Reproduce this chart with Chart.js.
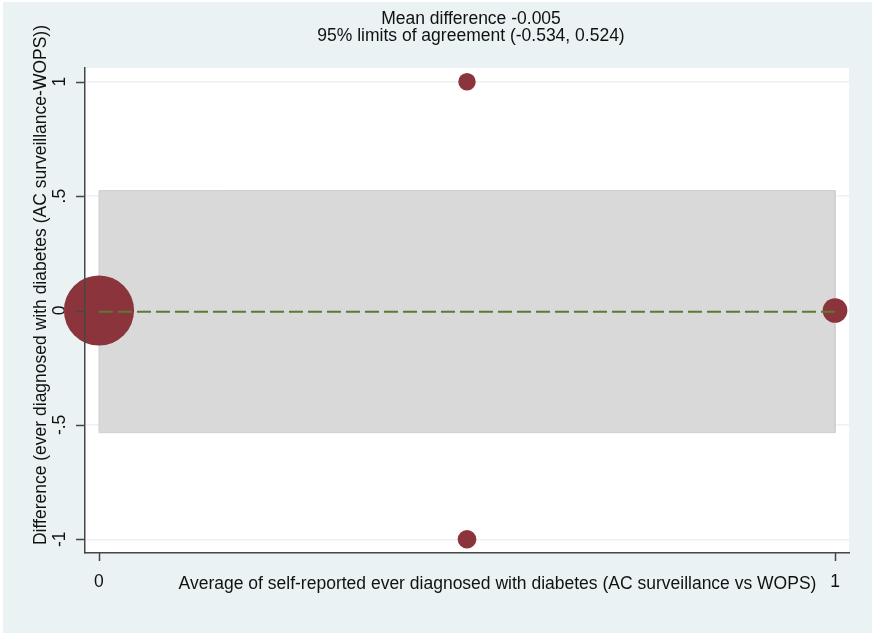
<!DOCTYPE html>
<html>
<head>
<meta charset="utf-8">
<script src="https://cdn.jsdelivr.net/npm/chart.js@4/dist/chart.umd.min.js"></script>
<style>
  html, body { margin: 0; padding: 0; background: #ffffff; }
  canvas { display: block; }
</style>
</head>
<body>
<canvas id="ba" width="872" height="634"></canvas>
<script>
// Bland-Altman agreement: self-reported diabetes, AC surveillance vs WOPS
const avgValues = [0, 1, 0.5, 0.5];
const diffValues = [0, 0, 1, -1];
const pairCounts = [113, 14, 7, 8];
const meanDifference = -0.005;
const limitsOfAgreement = [-0.534, 0.524];
const xTickValues = [0, 1];
const xTickLabels = ['0', '1'];
const yTickValues = [-1, -0.5, 0, 0.5, 1];
const yTickLabels = ['-1', '-.5', '0', '.5', '1'];
const xTitle = 'Average of self-reported ever diagnosed with diabetes (AC surveillance vs WOPS)';
const yTitle = 'Difference (ever diagnosed with diabetes (AC surveillance-WOPS))';
const titleLines = [
  'Mean difference ' + meanDifference.toFixed(3),
  '95% limits of agreement (' + limitsOfAgreement[0].toFixed(3) + ', ' + limitsOfAgreement[1].toFixed(3) + ')'
];

const FONT_FAMILY = '"Liberation Sans", Arial, Helvetica, sans-serif';
const FONT_SIZE = 17.5;
const BG = '#EAF2F3';
const AXIS_COLOR = '#464646';

const points = avgValues.map((x, i) => ({ x: x, y: diffValues[i] }));
const xMin = xTickValues[0], xMax = xTickValues[xTickValues.length - 1];
const band = [
  { x: xMin, y: limitsOfAgreement[0] },
  { x: xMin, y: limitsOfAgreement[1] },
  { x: xMax, y: limitsOfAgreement[1] },
  { x: xMax, y: limitsOfAgreement[0] },
  { x: xMin, y: limitsOfAgreement[0] }
];
const meanLine = [{ x: xMin, y: meanDifference }, { x: xMax, y: meanDifference }];

// graph region background and white plot region
const framePlugin = {
  id: 'frame',
  beforeDraw(chart) {
    const { ctx, chartArea: a } = chart;
    ctx.save();
    ctx.fillStyle = '#ffffff';
    ctx.fillRect(0, 0, chart.width, chart.height);
    ctx.fillStyle = BG;
    ctx.fillRect(3, 2, chart.width - 3, chart.height - 3);
    ctx.fillStyle = '#ffffff';
    ctx.fillRect(a.left, a.top, a.right - a.left, a.bottom - a.top);
    ctx.restore();
  }
};

// tick marks and the titles
const textPlugin = {
  id: 'texts',
  afterDraw(chart) {
    const { ctx, chartArea: a, scales } = chart;
    ctx.save();
    ctx.strokeStyle = AXIS_COLOR;
    ctx.lineWidth = 1.5;
    ctx.beginPath();
    yTickValues.forEach(v => {
      const y = Math.round(scales.y.getPixelForValue(v)) + 0.5;
      ctx.moveTo(a.left - 9, y);
      ctx.lineTo(a.left, y);
    });
    xTickValues.forEach(v => {
      const x = Math.round(scales.x.getPixelForValue(v)) + 0.5;
      ctx.moveTo(x, a.bottom);
      ctx.lineTo(x, a.bottom + 8);
    });
    ctx.stroke();

    ctx.fillStyle = '#111111';
    ctx.font = FONT_SIZE + 'px ' + FONT_FAMILY;
    ctx.textAlign = 'center';
    ctx.textBaseline = 'alphabetic';
    ctx.fillText(titleLines[0], 471, 23.5);
    ctx.fillText(titleLines[1], 471, 41);
    ctx.fillText(xTitle, 497.5, 589);

    ctx.translate(45.5, 285);
    ctx.rotate(-Math.PI / 2);
    ctx.fillText(yTitle, 0, 0);
    ctx.restore();
  }
};

const tickFont = { family: FONT_FAMILY, size: FONT_SIZE };

new Chart(document.getElementById('ba'), {
  type: 'scatter',
  data: {
    datasets: [
      {
        type: 'scatter',
        label: 'Pairs',
        data: points,
        order: 2,
        clip: false,
        backgroundColor: '#8C343C',
        borderColor: '#8C343C',
        borderWidth: 0,
        pointRadius: ctx => 3.3 * Math.sqrt(pairCounts[ctx.dataIndex]),
        pointHoverRadius: ctx => 3.3 * Math.sqrt(pairCounts[ctx.dataIndex])
      },
      {
        type: 'line',
        label: 'Mean difference',
        data: meanLine,
        order: 1,
        borderColor: '#5B7A33',
        borderWidth: 2,
        borderDash: [14, 5],
        pointRadius: 0,
        fill: false
      },
      {
        type: 'line',
        label: 'Limits of agreement',
        data: band,
        order: 3,
        borderColor: '#CFCFCF',
        borderWidth: 1,
        backgroundColor: '#D9D9D9',
        pointRadius: 0,
        fill: 'shape'
      }
    ]
  },
  options: {
    responsive: false,
    animation: false,
    events: [],
    layout: { autoPadding: false, padding: { left: 0, top: 68, right: 23, bottom: 0 } },
    plugins: {
      legend: { display: false },
      tooltip: { enabled: false },
      title: { display: false }
    },
    scales: {
      x: {
        type: 'linear',
        position: 'bottom',
        min: -0.019,
        max: 1.019,
        afterBuildTicks: s => { s.ticks = xTickValues.map(v => ({ value: v })); },
        afterFit: s => { s.height = 81; s.paddingLeft = 0; s.paddingRight = 0; },
        ticks: {
          autoSkip: false,
          maxRotation: 0,
          padding: 19,
          color: '#111111',
          font: tickFont,
          callback: v => xTickLabels[xTickValues.indexOf(v)]
        },
        grid: { drawOnChartArea: false, drawTicks: false },
        border: { display: true, color: AXIS_COLOR, width: 1.5, z: 1 }
      },
      y: {
        type: 'linear',
        position: 'left',
        min: -1.06,
        max: 1.06,
        afterBuildTicks: s => { s.ticks = yTickValues.map(v => ({ value: v })); },
        afterFit: s => { s.width = 85; s.paddingTop = 0; s.paddingBottom = 0; },
        ticks: {
          autoSkip: false,
          minRotation: 90,
          maxRotation: 90,
          crossAlign: 'center',
          padding: 15,
          color: '#111111',
          font: tickFont,
          callback: v => yTickLabels[yTickValues.indexOf(v)]
        },
        grid: { color: BG, lineWidth: 1.5, drawTicks: false },
        border: { display: true, color: AXIS_COLOR, width: 1.5, z: 1 }
      }
    }
  },
  plugins: [framePlugin, textPlugin]
});
</script>
</body>
</html>
